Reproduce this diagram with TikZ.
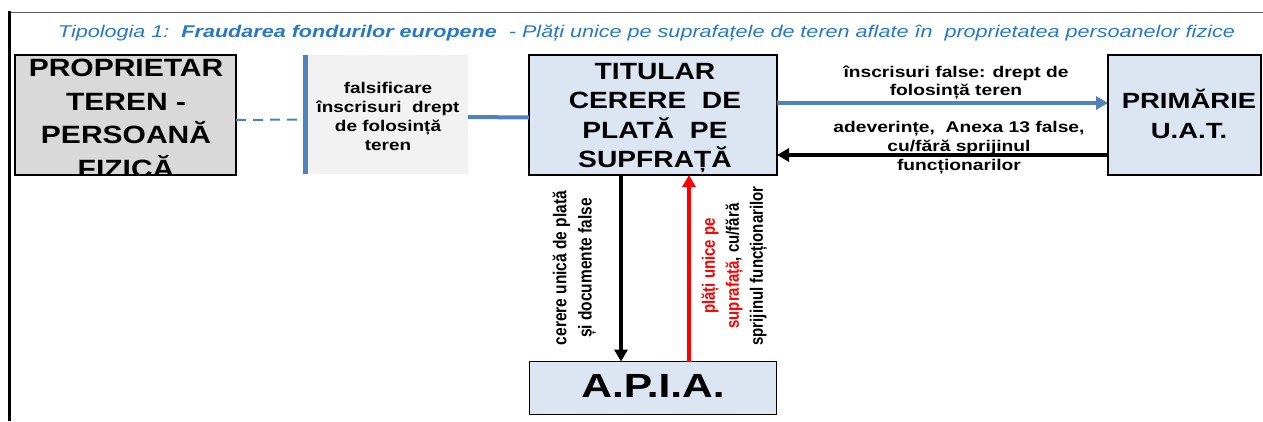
\documentclass[tikz,border=0pt]{standalone}
\usepackage{fontspec}
\setmainfont{Liberation Sans}
\usetikzlibrary{arrows.meta}
\definecolor{titleblue}{RGB}{40,120,200}
\definecolor{lineblue}{RGB}{79,129,189}
\definecolor{boxblue}{RGB}{220,230,242}
\definecolor{boxgray}{RGB}{217,217,217}
\definecolor{boxlight}{RGB}{242,242,242}
\newcommand\hs[2][1.2]{\scalebox{#1}[1]{#2}}
\newcommand\mlines[4][1.2]{\scalebox{#1}[1]{\fontsize{#2}{#3}\selectfont\bfseries\begin{tabular}{@{}c@{}}#4\end{tabular}}}
\newcommand\vlines[4][1.2]{\scalebox{1}[#1]{\fontsize{#2}{#3}\selectfont\bfseries\begin{tabular}{@{}c@{}}#4\end{tabular}}}
\begin{document}
\begin{tikzpicture}[x=1pt,y=-1pt,
  boxfill/.style={draw=none,inner sep=0pt,outer sep=0pt},
  txt/.style={inner sep=0pt,outer sep=0pt},
  border/.style={draw=black,line width=1.5pt},
  conn/.style={line width=4pt,-{Triangle[width=13pt,length=12pt]}},
  dashconn/.style={lineblue,line width=2pt,dash pattern=on 10pt off 7pt},
  plainconn/.style={lineblue,line width=4pt},
]
\useasboundingbox (0,0) rectangle (1263,421);
% frame
\draw[line width=1pt,black!65] (9,12) -- (1263,12);
\draw[line width=3pt,black] (9.5,11) -- (9.5,421);
% title
\node[txt,anchor=base west] (title) at (58,37) {\hs[1.27]{\fontsize{17}{20}\selectfont\itshape\color{titleblue}Tipologia 1:\ \ \textbf{Fraudarea fondurilor europene}\ \ - Plăți unice pe suprafațele de teren aflate în\ \ proprietatea persoanelor fizice}};
% boxes
\node[boxfill,fill=boxgray,minimum width=221pt,minimum height=120pt] (prop) at (125.5,115) {};
\begin{scope}
\clip (prop.south west) rectangle (prop.north east);
\node[txt] (propt) at (126,120.1) {\mlines{25}{33.5}{PROPRIETAR\\TEREN -\\PERSOANĂ\\FIZICĂ}};
\end{scope}
\draw[border] (prop.north west) rectangle (prop.south east);

\node[boxfill,fill=boxlight,minimum width=165pt,minimum height=119pt] (fals) at (385.5,114.5) {};
\draw[lineblue,line width=5pt] ([xshift=2.5pt]fals.north west) -- ([xshift=2.5pt]fals.south west);
\node[txt] (falst) at (388,117.7) {\mlines[1.22]{15.5}{19}{falsificare\\înscrisuri\ \ drept\\de folosință\\teren}};

\node[boxfill,border,fill=boxblue,minimum width=248pt,minimum height=120pt] (tit) at (653,115) {};
\node[txt] (titt) at (655,118) {\mlines[1.2]{23.5}{29}{TITULAR\\CERERE\ \ DE\\PLATĂ\ \ PE\\SUPFRAȚĂ}};

\node[boxfill,border,fill=boxblue,minimum width=153pt,minimum height=120pt] (prim) at (1184.5,115) {};
\node[txt] (primt) at (1189,117.4) {\mlines[1.25]{22}{30}{PRIMĂRIE\\U.A.T.}};

\node[boxfill,border,fill=boxblue,minimum width=247pt,minimum height=53pt] (apia) at (653,388) {};
\node[txt,anchor=base] (apiat) at (653,397) {\hs[1.27]{\fontsize{33.5}{40}\selectfont\bfseries A.P.I.A.}};

% connectors
\draw[dashconn] ([yshift=-5pt]prop.east) -- ([yshift=-5pt]fals.west);
\draw[plainconn] ([yshift=-2.5pt]fals.east) -- ([yshift=-2.5pt]tit.west);
\draw[conn,lineblue] ([yshift=12pt]tit.east) -- ([yshift=12pt]prim.west);
\draw[conn,black] ([yshift=-40pt]prim.west) -- ([yshift=-40pt]tit.east);
\draw[conn,black,line width=4.5pt] ([xshift=-32pt]tit.south) -- ([xshift=-32pt]apia.north);
\draw[conn,red,line width=4.5pt] ([xshift=36pt]apia.north) -- ([xshift=36pt]tit.south);

% connector labels
\node[txt] (lblA) at (956,82.8) {\mlines[1.24]{15.5}{18}{înscrisuri false: drept de\\folosință teren}};
\node[txt] (lblB) at (959,147.6) {\mlines[1.24]{15.5}{19}{adeverințe,\ \ Anexa 13 false,\\cu/fără sprijinul\\funcționarilor}};
\node[txt,rotate=90] (lblC) at (574,268) {\vlines[1.2]{15.5}{21}{cerere unică de plată\\și documente false}};
\node[txt,rotate=90] (lblD) at (734,266) {\vlines[1.2]{15}{20}{\color{red}plăți unice pe\\\textcolor{red}{suprafață}, cu/fără\\sprijinul funcționarilor}};
\end{tikzpicture}
\end{document}
